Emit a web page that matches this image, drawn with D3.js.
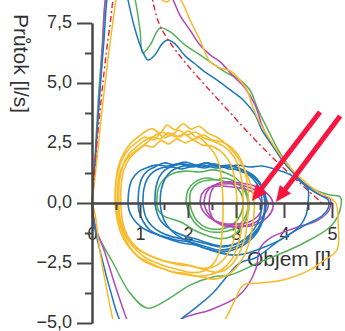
<!DOCTYPE html>
<html>
<head>
<meta charset="utf-8">
<script src="https://cdn.jsdelivr.net/npm/d3@7"></script>
<style>
  body { margin: 0; background: #fff; }
  svg { display: block; font-family: "Liberation Sans", Arial, sans-serif; }
</style>
</head>
<body>
<script>
// tick values
var yMajor = [-5, -2.5, 0, 2.5, 5, 7.5];
var yMinor = [-3.75, -1.25, 1.25, 3.75, 6.25];
var xMajor = [0, 1, 2, 3, 4, 5];
var xMinor = [0.5, 1.5, 2.5, 3.5, 4.5];

// forced manoeuvres, [volume l, flow l/s]
var forcedGreen = [[0,0],[0.06,1.79],[0.13,4.29],[0.21,6.5],[0.28,8.46],[0.5,10.3],[0.7,9.9],[0.9,8.46],[1.0,7.21],[1.06,6.25],[1.21,6.58],[1.42,7.29],[1.63,7.13],[1.94,6.58],[2.25,6.17],[2.5,5.83],[2.77,5.46],[3.08,5.13],[3.29,4.71],[3.46,3.88],[3.67,3.04],[3.88,2.21],[4.13,1.46],[4.33,0.96],[4.65,0.54],[4.96,0.33],[5.17,0.25],[5.19,-0.08],[5.0,-0.92],[4.33,-1.75],[3.5,-2.46],[2.88,-3.0],[2.52,-3.08],[2.04,-3.42],[1.56,-4.04],[1.15,-4.38],[0.79,-3.75],[0.44,-2.5],[0.17,-1.54],[0.06,-1.04],[0,0]];
var forcedMagenta = [[0,0],[0.06,1.58],[0.15,4.29],[0.23,6.79],[0.29,8.67],[0.5,10.4],[1.2,10.2],[1.69,8.46],[1.83,7.83],[2.04,7.21],[2.25,6.58],[2.46,6.17],[2.67,5.88],[2.92,5.33],[3.19,4.79],[3.4,4.08],[3.54,3.25],[3.71,2.54],[3.92,2.0],[4.13,1.46],[4.33,0.96],[4.58,0.54],[4.79,0.29],[4.96,0.17],[4.94,-0.29],[4.71,-0.71],[4.23,-1.04],[3.71,-1.46],[3.5,-1.88],[3.42,-2.71],[3.25,-3.42],[3.02,-3.92],[2.46,-4.46],[1.83,-4.88],[1.6,-5.7],[0.9,-5.7],[0.73,-4.88],[0.48,-3.42],[0.25,-1.96],[0.08,-1.04],[0,0]];
var forcedBlue = [[0,0],[0.04,0.96],[0.08,2.21],[0.15,4.29],[0.25,6.79],[0.31,8.46],[0.45,10.2],[0.62,9.9],[0.75,8.46],[0.9,7.21],[1.04,6.38],[1.17,5.96],[1.31,6.17],[1.46,6.63],[1.58,6.79],[1.73,6.63],[1.94,6.13],[2.15,5.79],[2.35,5.46],[2.6,5.13],[2.88,4.71],[3.15,4.29],[3.4,3.67],[3.54,3.04],[3.75,2.42],[3.96,1.79],[4.17,1.29],[4.38,0.88],[4.58,0.54],[4.79,0.29],[4.92,0.13],[4.92,-0.21],[4.79,-0.54],[4.44,-0.92],[3.92,-1.54],[3.4,-2.29],[3.08,-2.5],[2.52,-3.75],[2.15,-4.38],[1.83,-4.88],[1.5,-5.6],[0.9,-5.8],[0.58,-4.88],[0.38,-3.63],[0.19,-2.17],[0.06,-1.04],[0,0]];
var forcedYellow = [[0,0],[0.08,1.38],[0.21,3.88],[0.33,5.96],[0.44,7.63],[0.5,8.46],[0.65,9.9],[1.2,9.8],[1.42,8.54],[1.56,8.38],[1.69,8.6],[1.83,8.5],[2.04,7.63],[2.25,6.79],[2.46,5.88],[2.67,5.63],[2.88,5.5],[3.08,5.13],[3.23,4.71],[3.35,4.0],[3.5,3.33],[3.71,2.63],[3.92,2.0],[4.17,1.38],[4.44,0.88],[4.71,0.46],[4.96,0.21],[5.08,0],[5.13,-0.92],[5.1,-1.96],[4.75,-2.5],[4.54,-2.79],[3.98,-3.21],[3.5,-3.33],[3.15,-3.42],[2.98,-4.04],[2.77,-4.88],[2.5,-5.8],[0.6,-5.8],[0.44,-4.88],[0.31,-3.63],[0.17,-2.08],[0.06,-0.42],[0,0]];
var predicted = [[0,0],[0.08,2.0],[0.2,4.5],[0.3,6.3],[0.38,7.5],[0.46,8.7],[0.62,9.7],[1.05,9.7],[1.46,7.21],[2.98,3.54],[3.77,1.88],[4.79,0]];

// tidal loops
var tidalGreen = [
  [[1.96,0],[2.0,0.54],[2.15,0.88],[2.42,1.04],[2.6,0.96],[2.75,1.04],[3.02,0.83],[3.19,0.46],[3.25,0],[3.21,-0.5],[3.04,-0.96],[2.71,-1.21],[2.35,-1.13],[2.13,-0.79],[2.02,-0.38],[1.96,0]],
  [[1.35,0],[1.38,0.6],[1.5,1.0],[1.71,1.25],[1.96,1.33],[2.25,1.29],[2.52,1.38],[2.79,1.25],[3.02,1.0],[3.19,0.58],[3.27,0],[3.23,-0.6],[3.08,-1.1],[2.88,-1.42],[2.63,-1.48],[2.21,-1.21],[1.85,-0.79],[1.5,-0.55],[1.38,-0.3],[1.35,0]],
  [[2.04,0],[2.06,0.5],[2.21,0.83],[2.46,0.96],[2.73,0.92],[2.96,0.75],[3.1,0.42],[3.15,0],[3.1,-0.46],[2.94,-0.88],[2.69,-1.08],[2.4,-1.04],[2.19,-0.75],[2.08,-0.35],[2.04,0]]
];
var tidalMagenta = [
  [[2.33,0],[2.38,0.42],[2.5,0.71],[2.71,0.79],[2.98,0.79],[3.25,0.67],[3.48,0.46],[3.63,0.17],[3.67,-0.13],[3.58,-0.5],[3.42,-0.79],[3.1,-0.96],[2.79,-0.92],[2.54,-0.71],[2.4,-0.38],[2.33,0]],
  [[2.44,0],[2.48,0.46],[2.6,0.79],[2.83,0.88],[3.1,0.83],[3.38,0.71],[3.6,0.46],[3.75,0.13],[3.77,-0.21],[3.66,-0.58],[3.44,-0.88],[3.1,-1.0],[2.77,-0.96],[2.56,-0.75],[2.46,-0.4],[2.44,0]],
  [[2.25,0],[2.29,0.38],[2.42,0.63],[2.65,0.71],[2.92,0.67],[3.19,0.58],[3.4,0.38],[3.52,0.1],[3.54,-0.2],[3.46,-0.54],[3.27,-0.79],[2.98,-0.88],[2.69,-0.83],[2.46,-0.63],[2.31,-0.33],[2.25,0]]
];
var tidalBlue = [
  [[0.75,0],[0.77,0.54],[0.83,0.96],[0.96,1.29],[1.13,1.46],[1.33,1.58],[1.58,1.54],[1.83,1.63],[2.08,1.5],[2.33,1.58],[2.58,1.46],[2.83,1.5],[3.08,1.33],[3.29,1.17],[3.46,0.88],[3.56,0.46],[3.6,0],[3.56,-0.63],[3.42,-1.21],[3.19,-1.63],[2.92,-1.88],[2.63,-1.96],[2.33,-1.79],[2.04,-1.63],[1.75,-1.54],[1.46,-1.38],[1.21,-1.21],[1.0,-0.96],[0.85,-0.63],[0.77,-0.29],[0.75,0]],
  [[0.96,0],[0.98,0.6],[1.04,1.04],[1.15,1.33],[1.31,1.5],[1.5,1.67],[1.71,1.6],[1.94,1.71],[2.17,1.58],[2.4,1.67],[2.63,1.54],[2.88,1.58],[3.1,1.42],[3.31,1.21],[3.48,0.9],[3.58,0.5],[3.62,0],[3.58,-0.6],[3.46,-1.17],[3.27,-1.6],[3.0,-1.92],[2.71,-2.04],[2.42,-1.92],[2.15,-1.75],[1.88,-1.67],[1.6,-1.5],[1.38,-1.33],[1.19,-1.1],[1.06,-0.75],[0.98,-0.35],[0.96,0]],
  [[1.06,0],[1.08,0.58],[1.15,1.0],[1.27,1.29],[1.44,1.46],[1.65,1.5],[1.88,1.42],[2.1,1.54],[2.35,1.46],[2.6,1.58],[2.85,1.42],[3.08,1.38],[3.29,1.13],[3.44,0.79],[3.52,0.38],[3.54,0],[3.5,-0.58],[3.38,-1.08],[3.19,-1.5],[2.94,-1.75],[2.67,-1.83],[2.4,-1.71],[2.13,-1.58],[1.88,-1.5],[1.63,-1.38],[1.42,-1.21],[1.25,-0.96],[1.13,-0.63],[1.08,-0.29],[1.06,0]],
  [[1.31,0],[1.33,0.63],[1.4,1.08],[1.52,1.38],[1.69,1.54],[1.9,1.63],[2.13,1.54],[2.38,1.67],[2.63,1.5],[2.88,1.54],[3.13,1.38],[3.35,1.17],[3.5,0.83],[3.6,0.42],[3.63,0],[3.58,-0.54],[3.46,-1.04],[3.25,-1.46],[2.98,-1.71],[2.69,-1.79],[2.42,-1.67],[2.17,-1.5],[1.94,-1.38],[1.73,-1.21],[1.56,-1.0],[1.42,-0.71],[1.35,-0.38],[1.31,0]],
  [[1.42,0],[1.44,0.54],[1.52,1.0],[1.65,1.33],[1.83,1.5],[2.04,1.58],[2.29,1.5],[2.54,1.63],[2.79,1.5],[3.04,1.58],[3.29,1.5],[3.54,1.54],[3.79,1.42],[4.0,1.29],[4.17,1.13],[4.35,0.88],[4.5,0.58],[4.5,0],[4.46,-0.5],[4.33,-0.96],[4.1,-1.33],[3.83,-1.63],[3.54,-1.88],[3.25,-2.08],[2.96,-2.17],[2.67,-2.08],[2.4,-1.92],[2.13,-1.71],[1.9,-1.5],[1.71,-1.25],[1.56,-0.92],[1.46,-0.5],[1.42,0]]
];
var tidalYellow = [
  [[0.54,0],[0.54,0.75],[0.6,1.38],[0.71,1.79],[0.88,2.13],[1.06,2.38],[1.21,2.63],[1.38,2.88],[1.52,2.71],[1.67,2.88],[1.83,2.75],[2.0,3.0],[2.17,2.75],[2.33,2.83],[2.5,2.63],[2.71,2.54],[2.92,2.29],[3.08,1.88],[3.19,1.29],[3.25,0.54],[3.25,-0.29],[3.21,-1.21],[3.08,-2.04],[2.88,-2.63],[2.63,-2.88],[2.35,-2.79],[2.08,-2.63],[1.83,-2.58],[1.58,-2.46],[1.33,-2.29],[1.13,-2.13],[0.92,-1.88],[0.75,-1.54],[0.63,-1.04],[0.56,-0.5],[0.54,0]],
  [[0.5,0],[0.5,0.9],[0.56,1.6],[0.67,2.1],[0.81,2.5],[0.96,2.75],[1.1,2.96],[1.25,3.1],[1.42,2.92],[1.56,3.25],[1.73,3.05],[1.9,3.3],[2.06,3.08],[2.23,3.2],[2.42,2.9],[2.6,2.75],[2.81,2.42],[3.0,2.0],[3.15,1.5],[3.3,0.8],[3.38,0],[3.35,-0.9],[3.25,-1.8],[3.08,-2.5],[2.85,-2.96],[2.56,-3.17],[2.27,-3.08],[2.0,-3.0],[1.75,-2.92],[1.5,-2.75],[1.27,-2.6],[1.04,-2.38],[0.85,-2.0],[0.69,-1.5],[0.58,-0.9],[0.52,-0.4],[0.5,0]],
  [[0.6,0],[0.61,0.8],[0.67,1.42],[0.79,1.88],[0.94,2.17],[1.1,2.4],[1.27,2.33],[1.44,2.6],[1.6,2.46],[1.77,2.67],[1.94,2.5],[2.1,2.63],[2.29,2.42],[2.48,2.38],[2.67,2.17],[2.83,1.83],[2.94,1.3],[3.0,0.6],[3.02,-0.2],[3.0,-1.0],[2.92,-1.75],[2.75,-2.33],[2.52,-2.67],[2.25,-2.71],[2.0,-2.58],[1.75,-2.5],[1.5,-2.42],[1.27,-2.25],[1.06,-2.04],[0.88,-1.75],[0.73,-1.33],[0.64,-0.8],[0.6,0]],
  [[0.48,0],[0.49,0.7],[0.54,1.3],[0.63,1.83],[0.77,2.25],[0.94,2.54],[1.1,2.75],[1.29,2.63],[1.46,2.96],[1.63,2.79],[1.81,3.04],[1.98,2.83],[2.15,2.96],[2.33,2.71],[2.52,2.58],[2.73,2.38],[2.9,2.08],[3.04,1.6],[3.12,0.9],[3.15,0],[3.13,-0.9],[3.04,-1.75],[2.9,-2.38],[2.69,-2.79],[2.44,-3.0],[2.17,-3.04],[1.92,-2.92],[1.69,-2.88],[1.44,-2.71],[1.21,-2.5],[0.98,-2.25],[0.79,-1.88],[0.63,-1.38],[0.53,-0.75],[0.48,0]],
  [[0.56,0],[0.57,0.9],[0.65,1.6],[0.77,2.04],[0.92,2.33],[1.08,2.58],[1.25,2.75],[1.42,2.67],[1.58,2.92],[1.75,2.75],[1.92,2.88],[2.08,2.67],[2.25,2.71],[2.4,2.42],[2.54,2.1],[2.65,1.6],[2.7,0.9],[2.73,0],[2.72,-1.0],[2.67,-1.9],[2.54,-2.5],[2.33,-2.83],[2.08,-2.9],[1.83,-2.79],[1.58,-2.67],[1.35,-2.5],[1.13,-2.3],[0.94,-2.0],[0.77,-1.6],[0.64,-1.0],[0.57,-0.45],[0.56,0]]
];

// annotation arrows: [from, tip]
var arrows = [[[4.75, 3.79], [3.33, 0.08]], [[5.17, 3.63], [3.83, 0.04]]];

var colors = { blue: "#1f78bd", yellow: "#f8bb2a", green: "#55b15a", magenta: "#b14ab8", red: "#e8233a", arrow: "#f7163f", axis: "#474747", text: "#333" };

var width = 345, height = 331;

var svg = d3.select("body").append("svg")
    .attr("width", width)
    .attr("height", height);

var x = d3.scaleLinear().domain([0, 5]).range([92, 332]);
var y = d3.scaleLinear().domain([-5, 7.5]).range([323, 23]);

var comma = d3.formatLocale({ decimal: ",", thousands: ".", grouping: [3], currency: ["", ""] }).format(".1f");

// tick labels (under the curves)
var yLab = svg.append("g")
    .attr("transform", "translate(92,0)")
    .call(d3.axisLeft(y).tickValues(yMajor).tickFormat(comma).tickSize(15).tickPadding(5));
var xLab = svg.append("g")
    .attr("transform", "translate(0," + y(0) + ")")
    .call(d3.axisBottom(x).tickValues(xMajor).tickFormat(d3.format("d")).tickSize(15).tickPadding(9));
[yLab, xLab].forEach(function(g) {
  g.select(".domain").remove();
  g.selectAll("line").remove();
  g.selectAll("text").style("font-size", "18px").attr("fill", colors.text);
});
yLab.selectAll("text").attr("dy", "0.25em");

// axis titles
svg.append("text")
    .attr("transform", "translate(14,14) rotate(90)")
    .style("font-size", "21px")
    .attr("fill", colors.text)
    .text("Průtok [l/s]");
svg.append("text")
    .attr("x", 247).attr("y", 266)
    .style("font-size", "21px")
    .attr("fill", colors.text)
    .text("Objem [l]");

// curves
svg.append("clipPath").attr("id", "plot")
  .append("rect").attr("x", 0).attr("y", 0).attr("width", width).attr("height", 319);

var line = d3.line()
    .x(function(d) { return x(d[0]); })
    .y(function(d) { return y(d[1]); })
    .curve(d3.curveCatmullRom.alpha(0.5));

var plot = svg.append("g").attr("clip-path", "url(#plot)");

function draw(list, color, w) {
  plot.selectAll(null)
    .data(list)
    .enter()
    .append("path")
    .attr("d", line)
    .attr("fill", "none")
    .attr("stroke", color)
    .attr("stroke-width", w)
    .attr("stroke-linejoin", "round");
}

draw([forcedGreen], colors.green, 1.5);
draw([forcedMagenta], colors.magenta, 1.5);
draw([forcedBlue], colors.blue, 1.5);
draw([forcedYellow], colors.yellow, 1.5);

plot.append("path")
    .attr("d", line(predicted))
    .attr("fill", "none")
    .attr("stroke", colors.red)
    .attr("stroke-width", 1.4)
    .attr("stroke-dasharray", "6,3,2,3");

draw(tidalGreen, colors.green, 1.6);
draw(tidalMagenta, colors.magenta, 1.6);
draw(tidalBlue, colors.blue, 1.6);
draw(tidalYellow, colors.yellow, 1.6);

// axis lines and ticks (over the curves)
function axisLines(g) {
  g.select(".domain").attr("stroke", colors.axis).attr("stroke-width", 2);
  g.selectAll("line").attr("stroke", colors.axis).attr("stroke-width", 2);
}
svg.append("g").attr("transform", "translate(92,0)")
    .call(d3.axisLeft(y).tickValues(yMinor).tickFormat("").tickSize(7).tickSizeOuter(0)).call(axisLines);
svg.append("g").attr("transform", "translate(92,0)")
    .call(d3.axisLeft(y).tickValues(yMajor).tickFormat("").tickSize(15).tickSizeOuter(0)).call(axisLines);
svg.append("g").attr("transform", "translate(0," + y(0) + ")")
    .call(d3.axisBottom(x).tickValues(xMinor).tickFormat("").tickSize(7).tickSizeOuter(0)).call(axisLines);
svg.append("g").attr("transform", "translate(0," + y(0) + ")")
    .call(d3.axisBottom(x).tickValues(xMajor).tickFormat("").tickSize(15).tickSizeOuter(0)).call(axisLines);

// red arrows
arrows.forEach(function(a) {
  var x0 = x(a[0][0]), y0 = y(a[0][1]), x1 = x(a[1][0]), y1 = y(a[1][1]);
  var len = Math.sqrt((x1 - x0) * (x1 - x0) + (y1 - y0) * (y1 - y0));
  var ux = (x1 - x0) / len, uy = (y1 - y0) / len;
  var nx = -uy, ny = ux;
  var hl = 16, hw = 7;
  svg.append("line")
      .attr("x1", x0).attr("y1", y0)
      .attr("x2", x1 - ux * (hl - 2)).attr("y2", y1 - uy * (hl - 2))
      .attr("stroke", colors.arrow)
      .attr("stroke-width", 5);
  svg.append("path")
      .attr("d", "M" + x1 + "," + y1 +
                 "L" + (x1 - ux * hl + nx * hw) + "," + (y1 - uy * hl + ny * hw) +
                 "L" + (x1 - ux * hl - nx * hw) + "," + (y1 - uy * hl - ny * hw) + "Z")
      .attr("fill", colors.arrow);
});
</script>
</body>
</html>
